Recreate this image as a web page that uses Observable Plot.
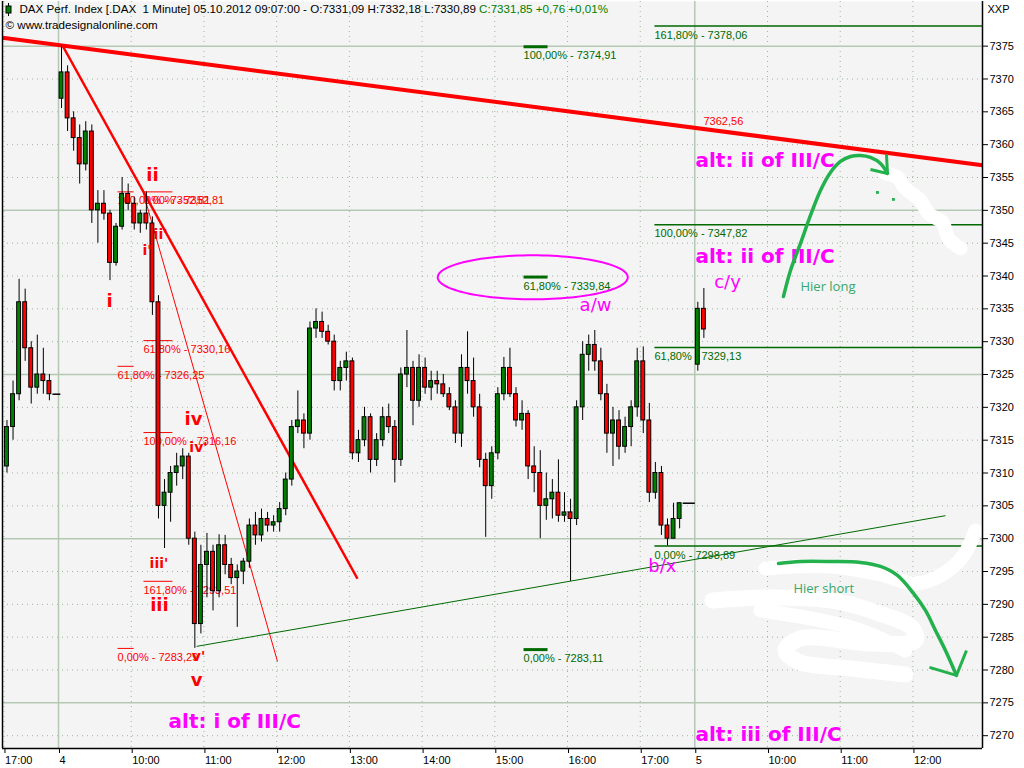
<!DOCTYPE html>
<html><head><meta charset="utf-8">
<script src="https://cdn.jsdelivr.net/npm/d3@7"></script>
<script src="https://cdn.jsdelivr.net/npm/@observablehq/plot@0.6"></script>
<style>
html,body{margin:0;padding:0;background:#fff;}
#chart{width:1024px;height:768px;overflow:hidden;}
</style></head><body><div id="chart"></div>
<script>
// ---------- DATA (time = trading minutes; 0 = 04.10. 09:00, session 09:00-17:45 = 525 min) ----------
const barStart = [-45,-40,-35,-30,-25,-20,-15,-10,
  0,5,10,15,20,25,30,35,40,45,50,55,60,65,70,75,80,85,90,95,100,105,110,115,120,125,130,135,140,145,150,155,160,165,170,175,180,185,190,195,200,205,210,215,220,225,230,235,240,245,250,255,260,265,270,275,280,285,290,295,300,305,310,315,320,325,330,335,340,345,350,355,360,365,370,375,380,385,390,395,400,405,410,415,420,425,430,435,440,445,450,455,460,465,470,475,480,485,490,495,500,505,510,
  525,530];
const barOpen = [7311,7317,7322,7336,7329,7323,7325,7324,
  7367,7371,7364,7361,7357,7362,7350,7351,7349.5,7342,7347.5,7352.5,7351,7348,7349.5,7348,7336,7305,7307,7310,7311,7312.5,7300,7287,7296,7298,7292,7299,7296,7294,7295,7296.5,7302,7300.5,7303,7302,7302.5,7304.5,7309,7317,7318,7316,7332,7333,7331.5,7330,7324,7326,7327,7313,7315,7318.5,7312,7315,7318.5,7317,7312,7325,7326,7321,7326,7323,7324,7323.5,7322,7320,7316,7326,7324,7320,7312,7308,7313,7322,7326,7322,7318,7319,7311,7310,7305,7306,7307,7303.5,7304,7303,7320,7328,7329.5,7327,7322,7316,7318,7314,7317,7320,7327,7318,7307,7310,7302,7300,7303,
  7326.5,7335];
const barHigh = [7318,7324,7339.5,7338,7330,7331,7329,7325,
  7375.1,7372,7365,7363,7363.5,7363,7353,7353,7350,7348,7355,7354,7352,7350,7352.8,7349,7337,7309,7311,7313,7313.7,7313,7301,7299,7300.8,7299,7300.6,7300.5,7297,7296,7297,7303,7304,7304.5,7304,7303.5,7305.5,7310,7318,7322.5,7319,7333,7335,7334.5,7332.5,7331,7327,7328.4,7327.5,7316.5,7320,7319,7316,7320,7320.5,7318,7326,7331.7,7327,7328,7327.5,7325.5,7325.5,7325,7323,7321,7328,7331.5,7327.5,7322,7313,7314,7323,7327.6,7329,7323,7321,7319.5,7314,7313.4,7310,7309,7312,7307,7306,7321,7330,7331,7331.7,7329,7323.5,7320,7319.5,7318.5,7321,7329,7329.2,7320.6,7311.6,7311,7303,7305.4,7305.4,
  7336,7338.1];
const barLow = [7310,7315,7321,7327,7320.5,7322,7322,7321,
  7365.5,7362,7359,7354,7356,7348,7345,7348.5,7339.3,7341.5,7347,7350,7347,7346.5,7347,7334,7303,7298.5,7302.5,7308,7309,7299,7283.3,7285.5,7291,7289,7291,7294.5,7293,7286.5,7293,7295.5,7299,7299.5,7301,7301,7301,7303.5,7308,7316,7313.7,7315,7330.5,7330.5,7329.5,7322.5,7322.5,7324,7312,7311.6,7314,7310,7311,7314,7316,7308.5,7311,7323,7317.2,7320,7322,7321,7322,7321.5,7319.5,7314.5,7313.9,7322,7318.5,7310.8,7300.2,7306,7312,7321,7321.5,7317,7316.5,7309,7307,7300,7302.8,7303,7302.5,7302.5,7293.5,7302,7318,7325.5,7325.5,7321,7313,7311,7312,7313,7314,7318.5,7316,7305.5,7306,7300.5,7298.9,7300,7301.5,
  7325.5,7330.5];
const barClose = [7317,7322,7336,7329,7323,7325,7324,7322,
  7371,7364,7361,7357,7362,7350,7351,7349.5,7342,7347.5,7352.5,7351,7348,7349.5,7348,7336,7305,7307,7310,7311,7312.5,7300,7287,7296,7298,7292,7299,7296,7294,7295,7296.5,7302,7300.5,7303,7302,7302.5,7304.5,7309,7317,7318,7316,7332,7333,7331.5,7330,7324,7326,7327,7313,7315,7318.5,7312,7315,7318.5,7317,7312,7325,7326,7321,7326,7323,7324,7323.5,7322,7320,7316,7326,7324,7320,7312,7308,7313,7322,7326,7322,7318,7319,7311,7310,7305,7306,7307,7303.5,7304,7303,7320,7328,7329.5,7327,7322,7316,7318,7314,7317,7320,7327,7318,7307,7310,7302,7300,7303,7305.4,
  7335,7331.85];
// flat closing prints after the last bar of a session: [from, to, price]
const closingFlats = [[-5, 1.5, 7322], [515, 525, 7305.4]];

// axis ticks
const xTickPos = [-45, 0, 60, 120, 180, 240, 300, 360, 420, 480, 525, 585, 645, 705];
const xTickLabels = ["17:00","4","10:00","11:00","12:00","13:00","14:00","15:00","16:00","17:00","5","10:00","11:00","12:00"];
const xHourGrid = [-45, 60, 120, 180, 240, 300, 360, 420, 480, 585, 645, 705];
const xDayGrid = [0, 525];
const yTicks = [7270,7275,7280,7285,7290,7295,7300,7305,7310,7315,7320,7325,7330,7335,7340,7345,7350,7355,7360,7365,7370,7375];
const yMajorGrid = [7275, 7300, 7325, 7350, 7375];
const xDomain = [-46.2, 762.4];
const yDomain = [7268.05, 7381.8];

// trend lines [t1, p1, t2, p2]
const redMainTrend = [[-46.2, 7376.29, 762.4, 7356.85]];
const redSteepTrend = [[3.3, 7375.1, 246.7, 7293.9]];
const redThinTrend = [[70.1, 7352.6, 180.7, 7281.3]];
const greenSupport = [[113.9, 7283.6, 731.8, 7303.5]];
const trendValueLabel = [[532.2, 7362.56, "7362,56"]];

// Fibonacci tools [label, value]
const fibRedA = [["0,00%", 7352.81], ["61,80%", 7330.16], ["100,00%", 7316.16], ["161,80%", 7293.51]];
const fibRedASpan = [70.1, 94];
const fibRedB = [["100,00%", 7352.81], ["61,80%", 7326.25], ["0,00%", 7283.29]];
const fibRedBSpan = [48.7, 62];
const fibGreenA = [["100,00%", 7374.91], ["61,80%", 7339.84], ["0,00%", 7283.11]];
const fibGreenASpan = [383.7, 403.5];
const fibGreenB = [["161,80%", 7378.06], ["100,00%", 7347.82], ["61,80%", 7329.13], ["0,00%", 7298.89]];
const fibGreenBSpan = [491.7, 762.4];

// wave labels [text, t, price]
const waveBold = [["ii", 77.6, 7355.3], ["i", 42.1, 7336.1], ["iv", 111.4, 7318.2], ["iii", 83.3, 7289.8], ["v", 113.9, 7278.4]];
const wavePrime = [["ii'", 84.2, 7346.3], ["i'", 73.0, 7343.9], ["iv'", 115.5, 7313.9], ["iii'", 82.9, 7296.2], ["v'", 115.5, 7282.1]];
const magentaSmall = [["a/w", 443.1, 7335.5], ["c/y", 552.0, 7339.0], ["b/x", 498.3, 7295.8]];
const magentaBold = [["alt: ii of III/C", 525.6, 7357.6], ["alt: ii of III/C", 525.6, 7343.0], ["alt: iii of III/C", 525.6, 7270.2], ["alt: i of III/C", 90.8, 7272.2]];
const greenNotes = [["Hier long", 612.2, 7338.3], ["Hier short", 606.4, 7292.4]];

// ellipse around 61.8% level [t, price] and radii [minutes, points]
const ellipseCenter = [391.3, 7339.8];
const ellipseRadius = [78.4, 3.35];

// hand-drawn arrows [t, price]
const arrowUp = [[598.2,7336.89],[603.96,7340.85],[612.21,7344.96],[620.46,7349.22],[628.71,7353.03],[636.96,7355.77],[645.21,7357.44],[653.47,7358.2],[661.72,7358.36],[669.97,7358.05],[678.22,7357.14],[684.0,7355.62]];
const arrowUpHead = [[669.97,7356.22,684.0,7355.62],[683.17,7358.51,684.0,7355.62]];
const arrowUpSpecks = [[675.7,7352.72],[688.9,7351.66]];
const arrowDown = [[594.06,7296.23],[612.21,7296.53],[636.96,7296.53],[661.72,7296.38],[678.22,7295.77],[692.24,7294.4],[705.45,7291.66],[715.35,7289.07],[723.6,7286.03],[731.85,7282.98],[740.92,7279.18]];
const arrowDownHead = [[718.65,7280.4,740.92,7279.18],[749.17,7282.98,740.92,7279.18]];
// white erase scribbles [t, price]
const eraseUpper = [[682.34,7355.62],[692.24,7355.0],[698.84,7353.33],[711.22,7351.5],[717.82,7349.52],[729.37,7348.15],[734.32,7345.72],[744.22,7344.2]];
const eraseLowerA = [[583.33,7295.46],[636.96,7295.77],[678.22,7294.55],[707.1,7293.18],[731.85,7294.86],[746.7,7297.45],[756.6,7301.26]];
const eraseLowerB = [[539.6,7290.6],[587.46,7291.05],[636.96,7290.6],[669.97,7289.07],[704.62,7286.33],[707.1,7284.5],[669.97,7284.05],[612.21,7284.81],[599.83,7282.98],[612.21,7281.15],[653.47,7280.24],[698.84,7279.33]];
const eraseLowerC = [[579.2,7289.07],[628.71,7287.55],[661.72,7286.03],[698.84,7282.98]];

const headerBlack = "DAX Perf. Index [.DAX  1 Minute] 05.10.2012 09:07:00 - O:7331,09 H:7332,18 L:7330,89";
const headerGreen = " C:7331,85 +0,76 +0,01%";
const headerSource = "© www.tradesignalonline.com";
const symbolLabel = "XXP";

// ---------- BUILD ----------
const bars = barStart.map((t, i) => ({t, o: barOpen[i], h: barHigh[i], l: barLow[i], c: barClose[i]}));
const fmt = v => v.toFixed(2).replace(".", ",");
const fibRows = (set, span) => set.map(([pct, v]) => ({pct, v, t1: span[0], t2: span[1], label: `${pct} - ${fmt(v)}`}));
const yMinorGrid = yTicks.filter(v => !yMajorGrid.includes(v));
const ellipsePts = d3.range(0, 361, 3).map(a => [
  ellipseCenter[0] + ellipseRadius[0] * Math.cos(a * Math.PI / 180),
  ellipseCenter[1] + ellipseRadius[1] * Math.sin(a * Math.PI / 180)]);
const tickLabel = new Map(xTickPos.map((p, i) => [p, xTickLabels[i]]));

const RED = "#ff0000", DKGREEN = "#006a00", MAG = "#ff00ff", PAINT = "#22b14c";
const gridCol = "#b4c8b4", dotCol = "#9db59d";
const SANS = "Liberation Sans, Arial, sans-serif";
const BOLD = "DejaVu Sans, Verdana, sans-serif";

const fibMarks = (rows, color, width) => [
  Plot.link(rows, {x1: "t1", x2: "t2", y1: "v", y2: "v", stroke: color, strokeWidth: width}),
  Plot.text(rows, {x: "t1", y: "v", text: "label", fill: color, textAnchor: "start", dy: 9, fontSize: 11, fontFamily: SANS})
];
const segMarks = (arr, color, width) => Plot.link(arr, {x1: d => d[0], y1: d => d[1], x2: d => d[2], y2: d => d[3], stroke: color, strokeWidth: width});
const ptLine = (arr, color, width, curve) => Plot.line(arr, {x: d => d[0], y: d => d[1], stroke: color, strokeWidth: width, curve: curve || "catmull-rom", strokeLinecap: "round", strokeLinejoin: "round"});
const textMarks = (arr, opts) => Plot.text(arr, {x: d => d[1], y: d => d[2], text: d => d[0], ...opts});

const chart = Plot.plot({
  width: 1024, height: 768,
  marginLeft: 2, marginRight: 42, marginTop: 1, marginBottom: 20,
  style: {fontFamily: SANS, fontSize: "11px", background: "#ffffff", color: "#000"},
  x: {domain: xDomain, axis: null},
  y: {domain: yDomain, axis: null},
  marks: [
    Plot.frame({fill: "#f4f4f4", stroke: "none"}),
    // grid
    Plot.ruleY(yMinorGrid, {stroke: dotCol, strokeDasharray: "1,4", strokeWidth: 1}),
    Plot.ruleX(xHourGrid, {stroke: dotCol, strokeDasharray: "1,4", strokeWidth: 1}),
    Plot.ruleY(yMajorGrid, {stroke: gridCol, strokeWidth: 1.5}),
    Plot.ruleX(xDayGrid, {stroke: gridCol, strokeWidth: 1.5}),
    // fibonacci
    ...fibMarks(fibRows(fibGreenB, fibGreenBSpan), DKGREEN, 1.5),
    ...fibMarks(fibRows(fibGreenA, fibGreenASpan), DKGREEN, 3),
    ...fibMarks(fibRows(fibRedA, fibRedASpan), RED, 1),
    ...fibMarks(fibRows(fibRedB, fibRedBSpan), RED, 1),
    // trend lines
    segMarks(greenSupport, DKGREEN, 1),
    segMarks(redThinTrend, RED, 1),
    segMarks(redSteepTrend, RED, 2.5),
    segMarks(redMainTrend, RED, 4),
    Plot.text(trendValueLabel, {x: d => d[0], y: d => d[1], text: d => d[2], fill: RED, textAnchor: "start", dy: -6, fontSize: 11, fontFamily: SANS}),
    // candles
    Plot.link(closingFlats, {x1: d => d[0], x2: d => d[1], y1: d => d[2], y2: d => d[2], stroke: "#000", strokeWidth: 1.5}),
    Plot.ruleX(bars, {x: d => d.t + 2.5, y1: "l", y2: "h", stroke: "#000", strokeWidth: 1}),
    Plot.rect(bars, {x1: d => d.t + 0.9, x2: d => d.t + 4.1, y1: "o", y2: "c", fill: d => d.c >= d.o ? "#008000" : RED, stroke: "#000", strokeWidth: 1}),
    // annotations
    ptLine(ellipsePts, MAG, 2, "linear"),
    textMarks(waveBold, {fill: RED, fontFamily: BOLD, fontWeight: "bold", fontSize: 18}),
    textMarks(wavePrime, {fill: RED, fontFamily: BOLD, fontWeight: "bold", fontSize: 14}),
    textMarks(magentaSmall, {fill: MAG, fontFamily: BOLD, fontSize: 18}),
    textMarks(magentaBold, {fill: MAG, fontFamily: BOLD, fontWeight: "bold", fontSize: 20, textAnchor: "start"}),
    // erase scribbles
    ptLine(eraseUpper, "#ffffff", 14),
    ptLine(eraseLowerA, "#ffffff", 14),
    ptLine(eraseLowerB, "#ffffff", 16),
    ptLine(eraseLowerC, "#ffffff", 14),
    // hand-drawn arrows
    ptLine(arrowUp, PAINT, 3.5),
    segMarks(arrowUpHead, PAINT, 3),
    Plot.dot(arrowUpSpecks, {x: d => d[0], y: d => d[1], symbol: "square", r: 1.6, fill: PAINT}),
    ptLine(arrowDown, PAINT, 3.5),
    segMarks(arrowDownHead, PAINT, 3),
    textMarks(greenNotes, {fill: "#36a86c", fontFamily: "Open Sans, sans-serif", fontSize: 13, textAnchor: "start"}),
    // header
    Plot.text([headerBlack], {frameAnchor: "top-left", dx: 17, dy: 3, textAnchor: "start", lineAnchor: "top", fontSize: 11.6, fill: "#000", fontFamily: SANS}),
    Plot.text([headerSource], {frameAnchor: "top-left", dx: 3, dy: 19, textAnchor: "start", lineAnchor: "top", fontSize: 11.6, fill: "#000", fontFamily: SANS}),
    Plot.text([symbolLabel], {frameAnchor: "top-right", dx: 5, dy: 4, textAnchor: "start", lineAnchor: "top", fontSize: 11, fill: "#000", fontFamily: SANS}),
    // axes and frame
    Plot.axisY({anchor: "right", ticks: yTicks, tickSize: 5, tickPadding: 2, tickFormat: d => String(d), label: null, fontSize: 11}),
    Plot.axisX({anchor: "bottom", ticks: xTickPos, tickSize: 5, tickPadding: 3, tickFormat: d => tickLabel.get(d), textAnchor: "start", dx: 1, label: null, fontSize: 11}),
    Plot.ruleX(xDomain, {stroke: "#000", strokeWidth: 1.5}),
    Plot.ruleY([yDomain[0]], {stroke: "#000", strokeWidth: 1.5})
  ]
});
document.getElementById("chart").append(chart);

// colour the last part of the header line and add the small candle icon
const headerEl = Array.from(chart.querySelectorAll("text")).find(e => e.textContent.startsWith("DAX Perf."));
if (headerEl) {
  headerEl.setAttribute("xml:space", "preserve");
  const ts = document.createElementNS("http://www.w3.org/2000/svg", "tspan");
  ts.setAttribute("fill", "#008000");
  ts.textContent = headerGreen;
  headerEl.appendChild(ts);
}
const icon = d3.select(chart).append("g");
icon.append("line").attr("x1", 8.5).attr("x2", 8.5).attr("y1", 3).attr("y2", 16).attr("stroke", "#000");
icon.append("rect").attr("x", 6).attr("y", 6).attr("width", 5).attr("height", 7).attr("fill", "#008000").attr("stroke", "#000");
</script>
</body></html>
